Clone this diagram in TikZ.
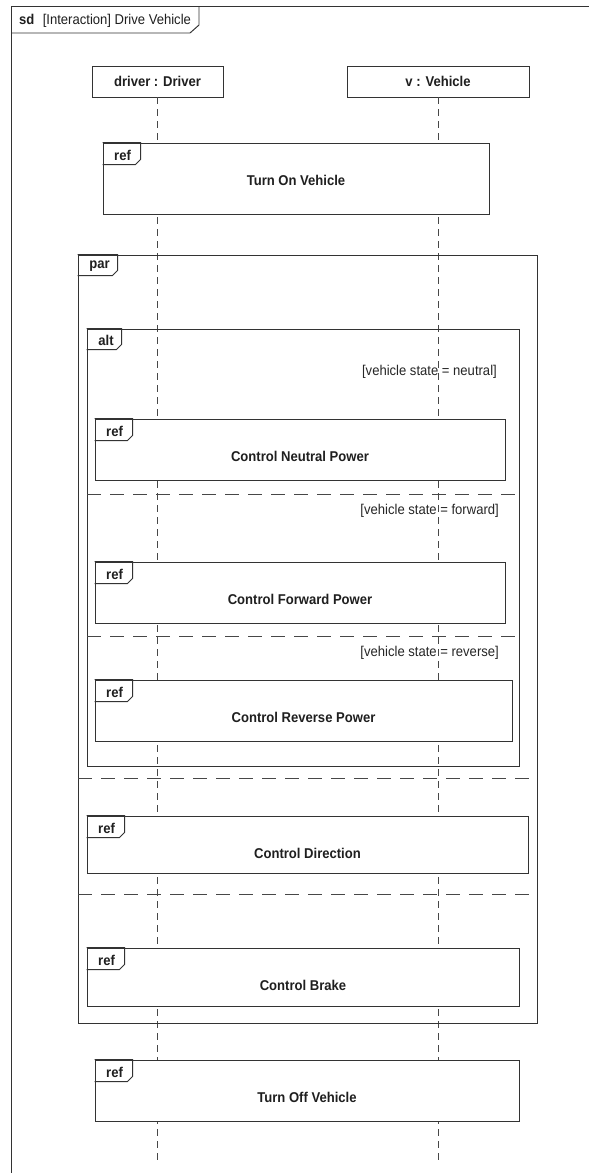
\documentclass[tikz,border=0pt]{standalone}
\usepackage{fontspec}
\setmainfont{Liberation Sans}[FakeStretch=0.92]
\usetikzlibrary{fit,calc}

\tikzset{
  x=1pt, y=-1pt,
  frameline/.style={draw=black!80, line width=0.95pt},
  lifeline/.style={draw=black!72, line width=0.95pt, dash pattern=on 7pt off 5pt},
  separator/.style={draw=black!72, line width=0.95pt, dash pattern=on 14pt off 9pt},
  headbox/.style={frameline, fill=white, inner sep=0pt},
  refbox/.style={frameline, fill=white, inner sep=0pt},
  boldlabel/.style={font=\fontsize{14.2}{16}\selectfont\bfseries, text=black!88, inner sep=0pt},
  guardlabel/.style={font=\fontsize{14.2}{16}\selectfont, text=black!85, inner sep=0pt, anchor=east},
}

% interaction use: name, top-left corner, bottom-right corner, title
\newcommand\interactionuse[4]{%
  \node[refbox, fit={#2 #3}] (#1) {};
  \draw[frameline] (#1.north west) -- ++(38,0) -- ++(0,17) -- ++(-5,5) -- ++(-33,0);
  \node[boldlabel] at ($(#1.north west)+(20,13)$) {ref};
  \node[boldlabel] at ($(#1.north)+(0,38)$) {#4};
}

% combined fragment: name, top-left corner, bottom-right corner, operator, tab width
\newcommand\fragment[5]{%
  \node[frameline, inner sep=0pt, fit={#2 #3}] (#1) {};
  \draw[frameline] (#1.north west) -- ++(#5,0) -- ++(0,16) -- ++(-5,5) -- ++(-#5+5,0);
  \node[boldlabel] at ($(#1.north west)+(#5/2+2,12)$) {#4};
}

\begin{document}
\begin{tikzpicture}
\useasboundingbox (0,0) rectangle (589,1173);
\clip (0,0) rectangle (589,1173);
\fill[white] (0,0) rectangle (589,1173);

% outer sequence diagram frame
\coordinate (sdtop) at (11,6);
\draw[frameline] (11,1190) -- (sdtop) -- (600,6);
\draw[frameline] (11,33) -- (190,33) -- (199,25) -- (199,6);
\node[anchor=west, inner sep=0pt, text=black!88] (sdname) at (19,21)
  {\fontsize{14.2}{16}\selectfont\textbf{sd}\,\, [Interaction] Drive Vehicle};

% lifeline heads
\node[headbox, fit={(92,66) (223,97)}] (driver) {};
\node[boldlabel] at (driver.center) {driver : Driver};
\node[headbox, fit={(347,66) (529,97)}] (vehicle) {};
\node[boldlabel] at (vehicle.center) {v : Vehicle};

% lifelines
\coordinate (driverEnd) at (driver.south |- 0,1164);
\coordinate (vehicleEnd) at (vehicle.south |- 0,1164);
\draw[lifeline] (driver.south) -- (driverEnd);
\draw[lifeline] (vehicle.south) -- (vehicleEnd);

% par fragment and its operands
\fragment{par}{(78,255)}{(537,1023)}{par}{40}
\coordinate (parSepAL) at (78,778);
\coordinate (parSepAR) at (537,778);
\draw[separator] (parSepAL) -- (parSepAR);
\coordinate (parSepBL) at (78,894);
\coordinate (parSepBR) at (537,894);
\draw[separator] (parSepBL) -- (parSepBR);

% alt fragment and its operands
\fragment{alt}{(87,329)}{(519,766)}{alt}{35}
\coordinate (altSepAL) at (87,494);
\coordinate (altSepAR) at (519,494);
\draw[separator] (altSepAL) -- (altSepAR);
\coordinate (altSepBL) at (87,636);
\coordinate (altSepBR) at (519,636);
\draw[separator] (altSepBL) -- (altSepBR);

% guards
\node[guardlabel] (gNeutral) at (497,372) {[vehicle state = neutral]};
\node[guardlabel] (gForward) at (499,511) {[vehicle state = forward]};
\node[guardlabel] (gReverse) at (499,653) {[vehicle state = reverse]};

% interaction uses
\interactionuse{turnon}{(103,143)}{(489,214)}{Turn On Vehicle}
\interactionuse{neutral}{(95,419)}{(505,480)}{Control Neutral Power}
\interactionuse{forward}{(95,562)}{(505,623)}{Control Forward Power}
\interactionuse{reverse}{(95,680)}{(512,741)}{Control Reverse Power}
\interactionuse{direction}{(87,816)}{(528,873)}{Control Direction}
\interactionuse{brake}{(87,948)}{(519,1006)}{Control Brake}
\interactionuse{turnoff}{(95,1060)}{(519,1121)}{Turn Off Vehicle}

\end{tikzpicture}
\end{document}
